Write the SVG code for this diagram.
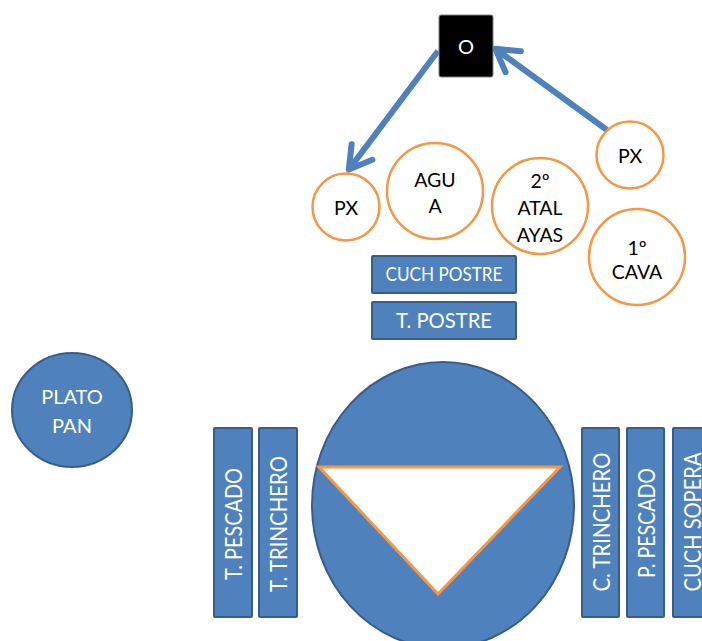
<svg xmlns="http://www.w3.org/2000/svg" width="702" height="641" viewBox="0 0 702 641">
<style>
  text { font-family: Lato, "Open Sans", "Liberation Sans", sans-serif; }
  .ring { fill: #ffffff; stroke: #F79646; stroke-width: 2.5; }
  .blue { fill: #4F81BD; stroke: #385D8A; stroke-width: 2; }
  .dark { font-size: 19.5px; fill: #000000; text-anchor: middle; }
  .light { fill: #ffffff; text-anchor: middle; }
  .vert { font-size: 23px; }
  .conn { stroke: #4F81BD; stroke-width: 6; fill: none; }
</style>
<defs>
  <marker id="open" markerUnits="userSpaceOnUse" viewBox="-30 -20 40 40" refX="0" refY="0" markerWidth="40" markerHeight="40" orient="auto">
    <path d="M -22 -13 L 0 0 L -22 13" fill="none" stroke="#4F81BD" stroke-width="6" stroke-linecap="round" stroke-linejoin="round"/>
  </marker>
</defs>

<g id="connectors">
  <line class="conn" x1="438" y1="51" x2="348.8" y2="169.6" marker-end="url(#open)"/>
  <line class="conn" x1="607" y1="130" x2="495.4" y2="48.8" marker-end="url(#open)"/>
</g>

<g id="node-O">
  <rect x="439" y="15" width="54" height="62" rx="2" fill="#000000" stroke="#7f7f7f" stroke-width="1"/>
  <text class="light" x="466" y="54" font-size="20">O</text>
</g>

<g id="node-px-left">
  <circle class="ring" cx="346" cy="207" r="33.5"/>
  <text class="dark" x="346" y="215" font-size="20.5">PX</text>
</g>
<g id="node-agua">
  <circle class="ring" cx="435" cy="191" r="48"/>
  <text class="dark" x="435" y="187">AGU</text>
  <text class="dark" x="435" y="213">A</text>
</g>
<g id="node-atalayas">
  <circle class="ring" cx="540" cy="206" r="48"/>
  <text class="dark" x="540" y="188">2º</text>
  <text class="dark" x="540" y="215">ATAL</text>
  <text class="dark" x="540" y="242">AYAS</text>
</g>
<g id="node-px-right">
  <circle class="ring" cx="630" cy="155" r="33.5"/>
  <text class="dark" x="630" y="163" font-size="20.5">PX</text>
</g>
<g id="node-cava">
  <circle class="ring" cx="637" cy="257" r="48"/>
  <text class="dark" x="637" y="255">1º</text>
  <text class="dark" x="637" y="279">CAVA</text>
</g>

<g id="node-cuch-postre">
  <rect class="blue" x="372" y="256" width="144" height="37" rx="1"/>
  <text class="light" x="444" y="281" font-size="19" textLength="117" lengthAdjust="spacingAndGlyphs">CUCH POSTRE</text>
</g>
<g id="node-t-postre">
  <rect class="blue" x="372" y="302" width="144" height="37" rx="1"/>
  <text class="light" x="444" y="328" font-size="21" textLength="96" lengthAdjust="spacingAndGlyphs">T. POSTRE</text>
</g>

<g id="node-plato-pan">
  <ellipse class="blue" cx="72" cy="410" rx="60" ry="57"/>
  <text class="light" x="72" y="404" font-size="20">PLATO</text>
  <text class="light" x="72" y="433" font-size="20">PAN</text>
</g>

<g id="node-plate">
  <ellipse class="blue" cx="443" cy="505" rx="131" ry="143"/>
  <polygon points="319,467 560,467 438,594" fill="#ffffff" stroke="#F79646" stroke-width="3" stroke-linejoin="miter"/>
</g>

<g id="node-t-pescado">
  <rect class="blue" x="214" y="428" width="38" height="189" rx="1"/>
  <text class="light vert" transform="translate(233,524) rotate(-90)" y="8.5" textLength="112" lengthAdjust="spacingAndGlyphs">T. PESCADO</text>
</g>
<g id="node-t-trinchero">
  <rect class="blue" x="259" y="428" width="38" height="189" rx="1"/>
  <text class="light vert" transform="translate(278,524) rotate(-90)" y="8.5" textLength="136" lengthAdjust="spacingAndGlyphs">T. TRINCHERO</text>
</g>
<g id="node-c-trinchero">
  <rect class="blue" x="582" y="428" width="37" height="189" rx="1"/>
  <text class="light vert" transform="translate(601,522) rotate(-90)" y="8.5" textLength="139" lengthAdjust="spacingAndGlyphs">C. TRINCHERO</text>
</g>
<g id="node-p-pescado">
  <rect class="blue" x="627" y="428" width="37" height="189" rx="1"/>
  <text class="light vert" transform="translate(646,523) rotate(-90)" y="8.5" textLength="110" lengthAdjust="spacingAndGlyphs">P. PESCADO</text>
</g>
<g id="node-cuch-sopera">
  <rect class="blue" x="673" y="428" width="37" height="189" rx="1"/>
  <text class="light vert" transform="translate(692,522) rotate(-90)" y="8.5" textLength="139" lengthAdjust="spacingAndGlyphs">CUCH SOPERA</text>
</g>
</svg>
